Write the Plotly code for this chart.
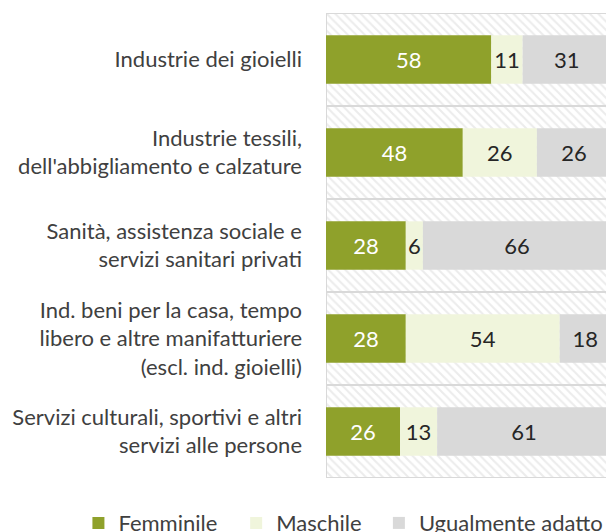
import plotly.graph_objects as go

categories = [
    "Industrie dei gioielli",
    "Industrie tessili,<br>dell'abbigliamento e calzature",
    "Sanità, assistenza sociale e<br>servizi sanitari privati",
    "Ind. beni per la casa, tempo<br>libero e altre manifatturiere<br>(escl. ind. gioielli)",
    "Servizi culturali, sportivi e altri<br>servizi alle persone",
]
femminile = [58, 48, 28, 28, 26]
maschile = [11, 26, 6, 54, 13]
ugualmente = [31, 26, 66, 18, 61]
series_names = ["Femminile", "Maschile", "Ugualmente adatto"]
total = [100, 100, 100, 100, 100]

FONT = "Lato"
FS = 22
colors = ["#8fa12b", "#f0f5dc", "#d9d9d9"]
text_colors = ["#ffffff", "#262626", "#262626"]
legend_ids = ["legend", "legend2", "legend3"]
legend_x = [-0.8687, -0.3152, 0.1856]

fig = go.Figure()

# hatched background bands
fig.add_trace(go.Bar(
    y=categories, x=total, base=[0] * len(total), orientation="h", width=1,
    marker=dict(color="#ffffff", line=dict(color="#d9d9d9", width=2),
                pattern=dict(shape="\\", fgcolor="#d9d9d9", bgcolor="#ffffff",
                             size=6, solidity=0.35, fillmode="overlay")),
    showlegend=False, hoverinfo="skip",
))

bases = [
    [0] * len(femminile),
    femminile,
    [f + m for f, m in zip(femminile, maschile)],
]
for name, vals, base, col, tcol, lid in zip(series_names, [femminile, maschile, ugualmente],
                                            bases, colors, text_colors, legend_ids):
    fig.add_trace(go.Bar(
        y=categories, x=vals, base=base, orientation="h", width=0.52, name=name,
        marker=dict(color=col, line=dict(width=0)),
        text=[str(v) for v in vals], textposition="inside", insidetextanchor="middle",
        textangle=0, constraintext="none", legend=lid,
        textfont=dict(family=FONT, size=FS, color=tcol),
    ))

legend_style = dict(orientation="h", xref="paper", yref="paper", xanchor="left",
                    y=-0.097, yanchor="middle", itemwidth=30, bgcolor="rgba(0,0,0,0)",
                    font=dict(family=FONT, size=FS, color="#404040"))

fig.update_layout(
    barmode="overlay",
    width=606, height=524,
    margin=dict(l=318, r=2.5, t=5, b=54, autoexpand=False),
    paper_bgcolor="white", plot_bgcolor="white",
    font=dict(family=FONT, size=FS, color="#404040"),
    uniformtext=dict(minsize=FS, mode="show"),
    showlegend=True,
    legend=dict(x=legend_x[0], **legend_style),
    legend2=dict(x=legend_x[1], **legend_style),
    legend3=dict(x=legend_x[2], **legend_style),
    xaxis=dict(range=[0, 100], visible=False, showgrid=False, zeroline=False),
    yaxis=dict(range=[4.5, -0.5], showgrid=False, zeroline=False, ticks="",
               showline=False, ticklabelstandoff=23, automargin=False,
               tickfont=dict(family=FONT, size=FS, color="#404040")),
)

fig.write_html("out.html")
